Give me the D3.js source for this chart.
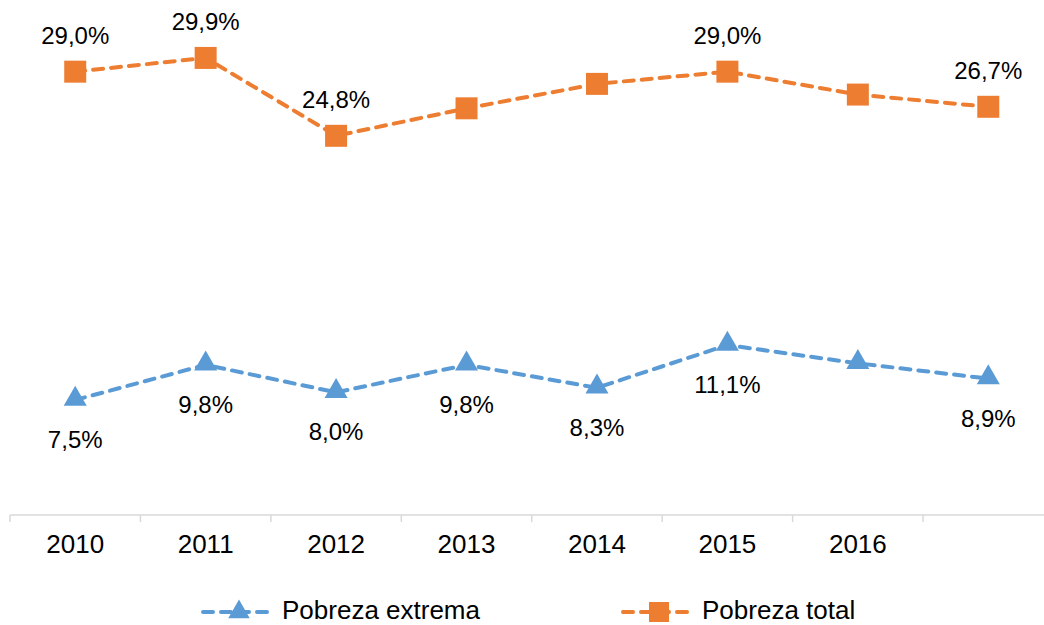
<!DOCTYPE html>
<html>
<head>
<meta charset="utf-8">
<script src="https://cdn.jsdelivr.net/npm/d3@7"></script>
<style>
  html, body { margin: 0; padding: 0; background: #fff; }
  svg { display: block; font-family: "Liberation Sans", Arial, sans-serif; }
</style>
</head>
<body>
<div id="chart"></div>
<script>
const width = 1044;
const height = 625;

// category slots: the last one has no label in the source
const years = ["2010", "2011", "2012", "2013", "2014", "2015", "2016", ""];
const extrema = [7.5, 9.8, 8.0, 9.8, 8.3, 11.1, 9.9, 8.9];
const total = [29.0, 29.9, 24.8, 26.6, 28.2, 29.0, 27.5, 26.7];
// which points carry a data label
const extremaLabeled = [true, true, true, true, true, true, false, true];
const totalLabeled = [true, true, true, false, false, true, false, true];

const blue = "#5B9BD5";
const orange = "#ED7D31";
const fmt = v => d3.format(".1f")(v).replace(".", ",") + "%";

const svg = d3.create("svg")
    .attr("width", width)
    .attr("height", height)
    .attr("viewBox", [0, 0, width, height]);

const x = d3.scaleBand()
    .domain(d3.range(years.length))
    .range([10, 1053.5]);

const y = d3.scaleLinear()
    .domain([0, 30])
    .range([514.5, 56.4]);

const cx = i => x(i) + x.bandwidth() / 2;

// axis
const axisY = 515;
svg.append("line")
    .attr("x1", 10).attr("x2", width)
    .attr("y1", axisY).attr("y2", axisY)
    .attr("stroke", "#d9d9d9").attr("stroke-width", 1.5);

svg.append("g")
    .selectAll("line")
    .data(d3.range(years.length))
    .join("line")
    .attr("x1", i => x(i)).attr("x2", i => x(i))
    .attr("y1", axisY).attr("y2", axisY + 7)
    .attr("stroke", "#d9d9d9").attr("stroke-width", 1.5);

svg.append("g")
    .selectAll("text")
    .data(years)
    .join("text")
    .attr("x", (d, i) => cx(i))
    .attr("y", 553)
    .attr("text-anchor", "middle")
    .attr("font-size", 26)
    .attr("fill", "#000")
    .text(d => d);

const line = d3.line()
    .x((d, i) => cx(i))
    .y(d => y(d));

const triangle = d3.symbol().type(d3.symbolTriangle).size(230);
const square = d3.symbol().type(d3.symbolSquare).size(484);

function drawSeries(values, color, symbol, labeled, below) {
    svg.append("path")
        .datum(values)
        .attr("d", line)
        .attr("fill", "none")
        .attr("stroke", color)
        .attr("stroke-width", 4)
        .attr("stroke-dasharray", "10,8")
        .attr("stroke-linecap", "round");

    svg.append("g")
        .selectAll("path")
        .data(values)
        .join("path")
        .attr("d", symbol)
        .attr("transform", (d, i) => `translate(${cx(i)},${y(d) + (symbol === triangle ? -1 : 0)})`)
        .attr("fill", color);

    svg.append("g")
        .selectAll("text")
        .data(values.map((v, i) => ({ v, i })).filter(d => labeled[d.i]))
        .join("text")
        .attr("x", d => cx(d.i))
        .attr("y", d => below ? y(d.v) + 48 : y(d.v) - 28)
        .attr("text-anchor", "middle")
        .attr("font-size", 24)
        .attr("fill", "#000")
        .text(d => fmt(d.v));
}

drawSeries(total, orange, square, totalLabeled, false);
drawSeries(extrema, blue, triangle, extremaLabeled, true);

// legend
const legend = [
    { name: "Pobreza extrema", color: blue, symbol: triangle, x0: 203 },
    { name: "Pobreza total", color: orange, symbol: square, x0: 623 }
];
const lg = svg.append("g")
    .selectAll("g")
    .data(legend)
    .join("g")
    .attr("transform", d => `translate(${d.x0},612)`);

lg.append("line")
    .attr("x1", 0).attr("x2", 72)
    .attr("stroke", d => d.color)
    .attr("stroke-width", 4)
    .attr("stroke-dasharray", "10,8")
    .attr("stroke-linecap", "round");

lg.append("path")
    .attr("d", d => d.symbol === square ? d3.symbol().type(d3.symbolSquare).size(400)() : d3.symbol().type(d3.symbolTriangle).size(200)())
    .attr("transform", "translate(36,0)")
    .attr("fill", d => d.color);

lg.append("text")
    .attr("x", 79)
    .attr("y", 7)
    .attr("font-size", 26)
    .attr("fill", "#000")
    .text(d => d.name);

document.getElementById("chart").appendChild(svg.node());
</script>
</body>
</html>
